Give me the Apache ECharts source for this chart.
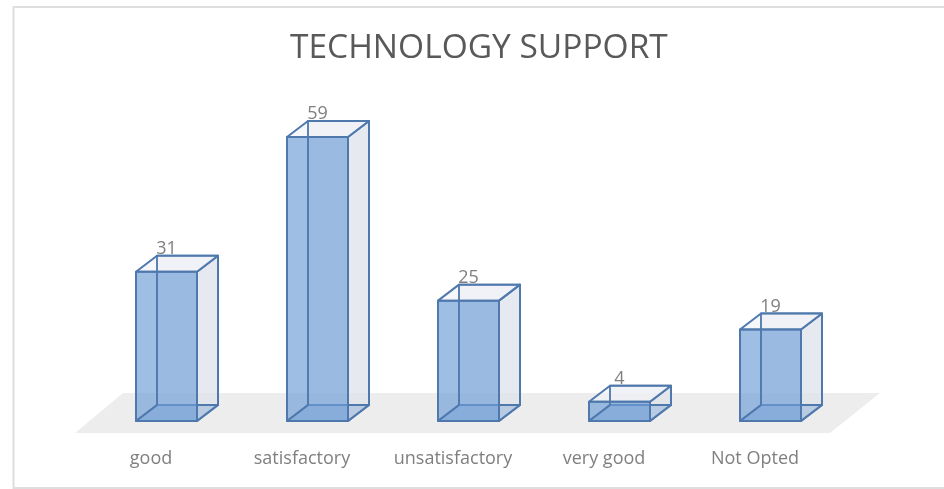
<!DOCTYPE html>
<html>
<head>
<meta charset="utf-8">
<title>Technology support</title>
<script src="https://cdn.jsdelivr.net/npm/echarts@6/dist/echarts.min.js"></script>
<style>
  html, body { margin: 0; padding: 0; background: #fff; }
  #chart { width: 944px; height: 489px; }
</style>
</head>
<body>
<div id="chart"></div>
<script>
/* ===== data ===== */
const categories = ["good", "satisfactory", "unsatisfactory", "very good", "Not Opted"];
const counts = [31, 59, 25, 4, 19];

/* ===== 3d look ===== */
const barWidth = 61;
const depthX = 21;
const depthY = 16;
const edge = { stroke: "#4f78ad", lineWidth: 2, lineJoin: "round" };

const poly = (points, fill, stroke) => ({
  type: "polygon",
  shape: { points },
  style: stroke ? { fill, ...edge } : { fill },
});

const chart = echarts.init(document.getElementById("chart"));

chart.setOption({
  animation: false,
  textStyle: { fontFamily: "Open Sans" },
  title: {
    text: "TECHNOLOGY SUPPORT",
    left: 285,
    top: 26,
    textStyle: { fontFamily: "Open Sans", fontSize: 33.5, fontWeight: "normal", color: "#595959" },
  },
  grid: { left: 91, right: 98, top: 137, bottom: 68 },
  xAxis: {
    type: "category",
    data: categories,
    axisLine: { show: false },
    axisTick: { show: false },
    /* labels sit left of the bars, as the floor is skewed */
    axisLabel: { color: "#7f7f7f", fontSize: 18, margin: 29, interval: 0, padding: [0, 31, 0, 0] },
  },
  yAxis: { type: "value", min: 0, max: 59, show: false },
  series: [
    /* floor */
    {
      type: "custom",
      silent: true,
      data: [0],
      renderItem: (params, api) => {
        if (params.dataIndex !== 0) return;
        const cs = params.coordSys;
        const bottom = cs.y + cs.height;
        return poly(
          [
            [cs.x + 32, bottom - 28],
            [cs.x + cs.width + 34, bottom - 28],
            [cs.x + cs.width - 16, bottom + 12],
            [cs.x - 16, bottom + 12],
          ],
          "#ededed"
        );
      },
    },
    /* boxes */
    {
      type: "custom",
      data: counts.map((v, i) => [i, v]),
      encode: { x: 0, y: 1 },
      clip: false,
      renderItem: (params, api) => {
        const [cx, top] = api.coord([api.value(0), api.value(1)]);
        const [, base] = api.coord([api.value(0), 0]);
        const l = cx - barWidth / 2;
        const r = cx + barWidth / 2;
        const bl = l + depthX;
        const br = r + depthX;
        const bt = top - depthY;
        const bb = base - depthY;
        return {
          type: "group",
          children: [
            /* back + side + top glass */
            poly([[bl, bt], [br, bt], [br, bb], [bl, bb]], "rgba(226,230,238,0.45)", true),
            poly([[r, top], [br, bt], [br, bb], [r, base]], "rgba(222,226,234,0.6)", true),
            poly([[l, top], [bl, bt], [br, bt], [r, top]], "rgba(240,242,246,0.6)", true),
            /* floor of the box */
            poly([[l, base], [bl, bb], [br, bb], [r, base]], "rgba(130,168,216,0.45)", true),
            poly([[l, top], [r, top], [r, base], [l, base]], "rgba(110,156,214,0.66)", true),
            /* back left edge shows through the front */
            { type: "line", shape: { x1: bl, y1: bt, x2: bl, y2: bb }, style: { stroke: "#4f78ad", lineWidth: 2, opacity: 0.85 } },
            { type: "line", shape: { x1: l, y1: base, x2: bl, y2: bb }, style: { stroke: "#4f78ad", lineWidth: 2 } },
            {
              type: "text",
              style: {
                x: cx,
                y: bt - 16,
                text: String(api.value(1)),
                fill: "#7f7f7f",
                font: "18px 'Open Sans'",
                textAlign: "center",
                textVerticalAlign: "top",
              },
            },
          ],
        };
      },
    },
  ],
  graphic: [
    {
      type: "polyline",
      silent: true,
      shape: { points: [[944, 7], [13.5, 7], [13.5, 488], [944, 488]] },
      style: { stroke: "#dedede", lineWidth: 2, fill: null },
    },
  ],
});
</script>
</body>
</html>
